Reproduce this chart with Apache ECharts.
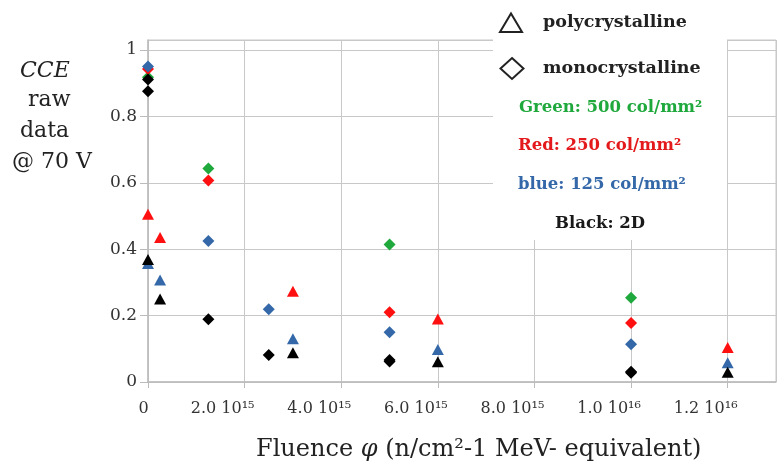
<!DOCTYPE html>
<html>
<head>
<meta charset="utf-8">
<title>CCE vs fluence</title>
<script src="https://cdn.jsdelivr.net/npm/echarts@6/dist/echarts.min.js"></script>
<style>
  html, body { margin: 0; padding: 0; background: #fff; }
  #chart { width: 782px; height: 464px; }
</style>
</head>
<body>
<div id="chart"></div>
<script>
// Fluence points (n/cm^2, 1 MeV neutron equivalent)
const monoFluence = [0, 1.25e15, 2.5e15, 5e15, 1e16];
const polyFluence = [0, 0.25e15, 3e15, 6e15, 1.2e16];

// Monocrystalline samples (diamonds)
const monoGreen  = [0.918, 0.643, null, 0.414, 0.254];
const monoRed    = [0.943, 0.607, null, 0.210, 0.178];
const monoBlue   = [0.950, 0.425, 0.219, 0.150, 0.114];
const monoBlackA = [0.911, null, null, 0.062, 0.028];
const monoBlackB = [0.876, 0.189, 0.081, 0.066, 0.031];

// Polycrystalline samples (triangles)
const polyRed   = [0.505, 0.435, 0.273, 0.190, 0.104];
const polyBlue  = [0.357, 0.307, 0.130, 0.098, 0.058];
const polyBlack = [0.369, 0.250, 0.088, 0.061, 0.029];

// Axis tick labels
const xTickLabels = ['0', '2.0 10¹⁵', '4.0 10¹⁵', '6.0 10¹⁵', '8.0 10¹⁵', '1.0 10¹⁶', '1.2 10¹⁶'];
const yTickLabels = ['0', '0.2', '0.4', '0.6', '0.8', '1'];

const GREEN = '#1fa83c';
const RED = '#ff1010';
const BLUE = '#3468a8';
const BLACK = '#000000';
const SERIF = '"DejaVu Serif", "Liberation Serif", serif';

function pairs(xs, ys) {
  const out = [];
  ys.forEach((y, i) => { if (y !== null) out.push([xs[i], y]); });
  return out;
}

function scatter(name, xs, ys, symbol, color) {
  const tri = symbol === 'triangle';
  return {
    name: name,
    type: 'scatter',
    symbol: symbol,
    symbolSize: tri ? [12, 11] : [12, 12],
    itemStyle: { color: color, opacity: 1 },
    data: pairs(xs, ys),
    z: 3
  };
}

// key text, vertically centred on y
function keyText(x, y, text, size, color) {
  return {
    type: 'text', z: 11, x: x, y: y,
    style: { text: text, font: 'bold ' + size + 'px ' + SERIF, fill: color, verticalAlign: 'middle' }
  };
}

const chart = echarts.init(document.getElementById('chart'), null, { renderer: 'canvas' });

chart.setOption({
  backgroundColor: '#ffffff',
  animation: false,
  grid: {
    left: 148, right: 6, top: 40, bottom: 82,
    show: true, borderColor: '#c6c6c6', borderWidth: 1
  },
  xAxis: {
    type: 'value',
    min: 0, max: 1.3e16, interval: 2e15,
    axisLine: { show: true, lineStyle: { color: '#bbbbbb', width: 1.5 } },
    axisTick: { show: true, length: 6, lineStyle: { color: '#bbbbbb' } },
    splitLine: { show: true, lineStyle: { color: '#c8c8c8', width: 1 } },
    axisLabel: {
      showMaxLabel: false,
      margin: 19,
      formatter: function (v) {
        const i = Math.round(v / 2e15);
        const t = xTickLabels[i];
        if (t === undefined) return '';
        return i === 0 ? '{t|' + t + '}{g0|}' : '{t|' + t + '}{g|}';
      },
      rich: {
        t: { fontFamily: SERIF, fontSize: 16, color: '#333' },
        g: { width: 44 },
        g0: { width: 9 }
      }
    }
  },
  yAxis: {
    type: 'value',
    min: 0, max: 1.03, interval: 0.2,
    axisLine: { show: true, lineStyle: { color: '#bbbbbb', width: 1.5 } },
    axisTick: { show: true, length: 8, lineStyle: { color: '#bbbbbb' } },
    splitLine: { show: true, lineStyle: { color: '#c8c8c8', width: 1 } },
    axisLabel: {
      showMaxLabel: false,
      margin: 11,
      fontFamily: SERIF, fontSize: 17, color: '#333',
      formatter: function (v) {
        const t = yTickLabels[Math.round(v / 0.2)];
        return t === undefined ? '' : t;
      }
    }
  },
  series: [
    scatter('mono green', monoFluence, monoGreen, 'diamond', GREEN),
    scatter('mono red', monoFluence, monoRed, 'diamond', RED),
    scatter('mono blue', monoFluence, monoBlue, 'diamond', BLUE),
    scatter('mono black A', monoFluence, monoBlackA, 'diamond', BLACK),
    scatter('mono black B', monoFluence, monoBlackB, 'diamond', BLACK),
    scatter('poly red', polyFluence, polyRed, 'triangle', RED),
    scatter('poly blue', polyFluence, polyBlue, 'triangle', BLUE),
    scatter('poly black', polyFluence, polyBlack, 'triangle', BLACK)
  ],
  graphic: [
    // y-axis caption
    { type: 'text', left: 20, top: 60, z: 10,
      style: { text: 'CCE', font: 'italic 22px ' + SERIF, fill: '#222' } },
    { type: 'text', left: 28, top: 89, z: 10,
      style: { text: 'raw', font: '22px ' + SERIF, fill: '#222' } },
    { type: 'text', left: 20, top: 120, z: 10,
      style: { text: 'data', font: '22px ' + SERIF, fill: '#222' } },
    { type: 'text', left: 12, top: 151, z: 10,
      style: { text: '@ 70 V', font: '22px ' + SERIF, fill: '#222' } },
    // x-axis caption
    { type: 'text', z: 10, x: 256, y: 450,
      style: {
        text: '{r|Fluence }{i|φ}{r| (n/cm²-1 MeV- equivalent)}',
        verticalAlign: 'middle',
        rich: {
          r: { fontFamily: SERIF, fontSize: 24, fill: '#222' },
          i: { fontFamily: SERIF, fontSize: 24, fontStyle: 'italic', fill: '#222' }
        }
      } },
    // key panel
    { type: 'rect', z: 10, shape: { x: 493, y: 0, width: 234, height: 240 },
      style: { fill: '#ffffff' } },
    { type: 'polygon', z: 11, shape: { points: [[500, 32], [511, 13.5], [522, 32]] },
      style: { fill: 'none', stroke: '#222', lineWidth: 2 } },
    { type: 'polygon', z: 11, shape: { points: [[512, 58], [523.5, 68.5], [512, 79], [500.5, 68.5]] },
      style: { fill: 'none', stroke: '#222', lineWidth: 2 } },
    keyText(543, 22, 'polycrystalline', 17.5, '#222'),
    keyText(543, 68, 'monocrystalline', 17.5, '#222'),
    keyText(519, 108, 'Green: 500 col/mm²', 16.5, GREEN),
    keyText(518, 146, 'Red: 250 col/mm²', 16.5, '#e3191c'),
    keyText(518, 185, 'blue: 125 col/mm²', 16.5, BLUE),
    keyText(555, 224, 'Black: 2D', 16.5, '#1a1a1a')
  ]
});
</script>
</body>
</html>
